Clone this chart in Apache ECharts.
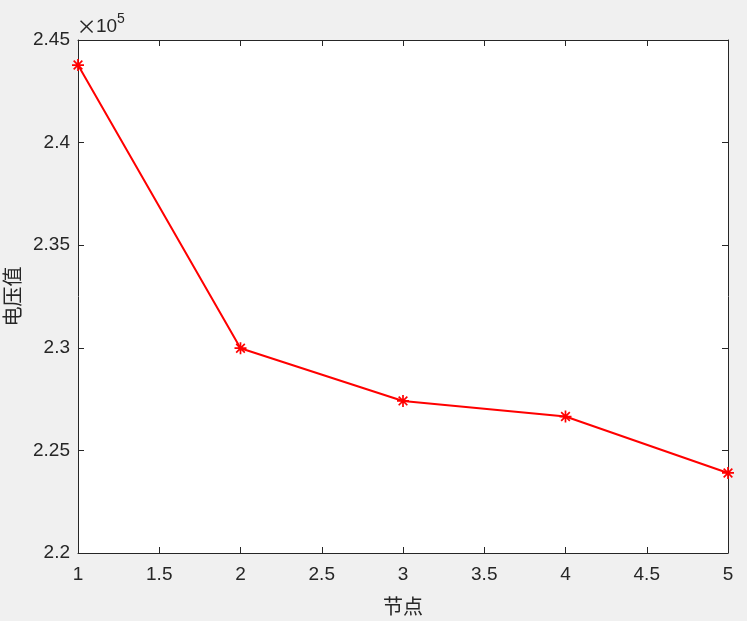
<!DOCTYPE html>
<html><head><meta charset="utf-8">
<script src="https://cdn.jsdelivr.net/npm/echarts@6/dist/echarts.min.js"></script>
<style>html,body{margin:0;padding:0;background:#f0f0f0;}#c{width:747px;height:621px;}</style>
</head><body><div id="c"></div>
<script>
const nodes = [1, 2, 3, 4, 5];
const voltages = [243780, 229980, 227410, 226650, 223900];
const xTicks = [1, 1.5, 2, 2.5, 3, 3.5, 4, 4.5, 5];
const yTicks = [2.2, 2.25, 2.3, 2.35, 2.4, 2.45];
const xName = '节点';
const yName = '电压值';

const chart = echarts.init(document.getElementById('c'));
const txt = '#262626';
const font = 'Liberation Sans, Arial, Helvetica, sans-serif';
const cjk = 'Noto Sans CJK SC, sans-serif';
const star = 'path://M0,-5L0,5M-5,0L5,0M-3.6,-3.6L3.6,3.6M-3.6,3.6L3.6,-3.6';
chart.setOption({
  backgroundColor: '#f0f0f0',
  animation: false,
  grid: {left: 78, top: 40, right: 19, bottom: 68, show: true, backgroundColor: '#ffffff', borderWidth: 0,
    containLabel: false, outerBoundsMode: 'none'},
  xAxis: [{
    type: 'value', min: xTicks[0], max: xTicks[xTicks.length-1], interval: 0.5,
    name: xName, nameLocation: 'middle', nameGap: 43,
    nameTextStyle: {fontFamily: cjk, fontSize: 20, color: txt},
    axisLine: {show: true, onZero: false, lineStyle: {color: txt, width: 1}},
    axisTick: {show: true, inside: true, length: 6, lineStyle: {color: txt}},
    axisLabel: {color: txt, fontFamily: font, fontSize: 19, margin: 12},
    splitLine: {show: false}
  }, {
    type: 'value', position: 'top', min: xTicks[0], max: xTicks[xTicks.length-1], interval: 0.5,
    axisLine: {show: true, onZero: false, lineStyle: {color: txt, width: 1}},
    axisTick: {show: true, inside: true, length: 6, lineStyle: {color: txt}},
    axisLabel: {show: false}, splitLine: {show: false}
  }],
  yAxis: [{
    type: 'value', min: 220000, max: 245000, interval: 5000,
    name: yName, nameLocation: 'middle', nameGap: 55, nameRotate: 90,
    nameTextStyle: {fontFamily: cjk, fontSize: 20, color: txt},
    axisLine: {show: true, onZero: false, lineStyle: {color: txt, width: 1}},
    axisTick: {show: true, inside: true, length: 6, lineStyle: {color: txt}},
    axisLabel: {color: txt, fontFamily: font, fontSize: 19, margin: 8,
      formatter: v => String(Math.round(v/1000)/100)},
    splitLine: {show: false}
  }, {
    type: 'value', position: 'right', min: 220000, max: 245000, interval: 5000,
    axisLine: {show: true, onZero: false, lineStyle: {color: txt, width: 1}},
    axisTick: {show: true, inside: true, length: 6, lineStyle: {color: txt}},
    axisLabel: {show: false}, splitLine: {show: false}
  }],
  graphic: [{
    type: 'text',
    style: {x: 86.5, y: 28, text: '×', align: 'center', verticalAlign: 'middle',
      font: '300 30px "Noto Sans", sans-serif', fill: txt}
  }, {
    type: 'text', left: 96, top: 17,
    style: {text: '10', font: '19px Liberation Sans, Arial, sans-serif', fill: txt}
  }, {
    type: 'text', left: 117, top: 12,
    style: {text: '5', font: '14px Liberation Sans, Arial, sans-serif', fill: txt}
  }],
  series: [{
    type: 'line', xAxisIndex: 0, yAxisIndex: 0,
    data: nodes.map((n, i) => [n, voltages[i]]),
    lineStyle: {color: '#ff0000', width: 2},
    symbol: star, symbolSize: 12,
    itemStyle: {color: '#ff0000', borderColor: '#ff0000', borderWidth: 1.7},
    showSymbol: true
  }]
});
</script></body></html>
